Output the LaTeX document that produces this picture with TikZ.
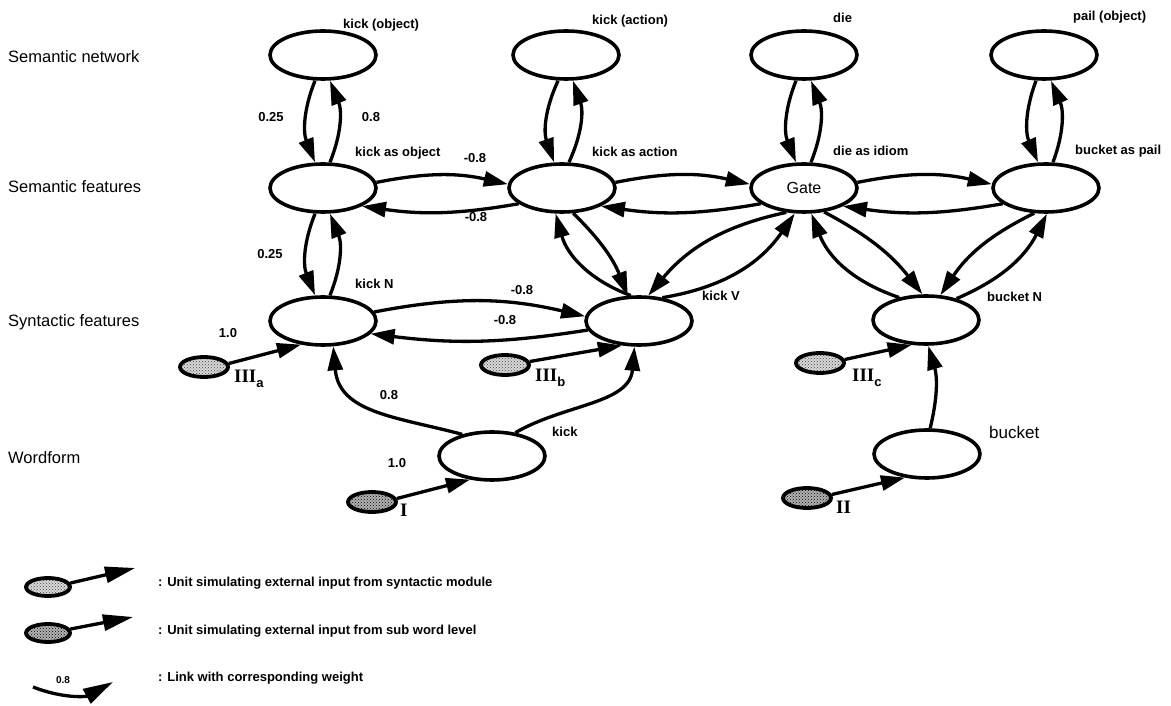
\documentclass[tikz,border=0pt]{standalone}
\usepackage{fontspec}
\setmainfont{Liberation Sans}
\newfontfamily\romfont{Liberation Serif}
\usetikzlibrary{shapes.geometric,arrows.meta,patterns}
\begin{document}
\begin{tikzpicture}[x=1pt,y=1pt,
  unit/.style={ellipse, draw, line width=3.6pt, minimum width=106pt, minimum height=48pt, inner sep=0pt},
  inp/.style={ellipse, draw, line width=3.8pt, minimum width=48pt, minimum height=20pt, inner sep=0pt},
  synin/.style={inp, preaction={fill=gray!30}, pattern=crosshatch dots, pattern color=black!75},
  subin/.style={inp, preaction={fill=gray!60}, pattern=crosshatch dots, pattern color=black},
  arr/.style={line width=3.3pt, -{Triangle[length=24pt,width=15pt]}},
  legarr/.style={line width=3.3pt, -{Triangle[length=30pt,width=16pt]}},
  lbl/.style={font=\fontsize{13}{15}\selectfont\bfseries, inner sep=0pt},
  wlbl/.style={lbl, anchor=west},
  rowlbl/.style={font=\fontsize{16.5}{19}\selectfont, anchor=west, inner sep=0pt},
  rom/.style={font=\fontsize{19}{22}\romfont\bfseries, anchor=west, inner sep=0pt},
]
\useasboundingbox[fill=white] (0,0) rectangle (1171,705);

% row labels
\node[rowlbl] (r1) at (8,648) {Semantic network};
\node[rowlbl] (r2) at (8,518) {Semantic features};
\node[rowlbl] (r3) at (8,383) {Syntactic features};
\node[rowlbl] (r4) at (8,247) {Wordform};

% units
\node[unit] (ko) at (323,650) {};
\node[unit] (ka) at (566,650) {};
\node[unit] (die) at (804,650) {};
\node[unit] (pail) at (1044,650) {};
\node[unit] (kao) at (323,517) {};
\node[unit] (kaa) at (562,517) {};
\node[unit, font=\fontsize{16}{18}\selectfont] (gate) at (804,517) {Gate};
\node[unit] (bap) at (1046,517) {};
\node[unit] (kN) at (323,384) {};
\node[unit] (kV) at (639,384) {};
\node[unit] (bN) at (926,385) {};
\node[unit] (kW) at (492,249) {};
\node[unit] (bW) at (927,251) {};

% unit labels
\node[wlbl] (lko) at (343,680) {kick (object)};
\node[wlbl] (lka) at (592,684) {kick (action)};
\node[wlbl] (ldie) at (833,687) {die};
\node[wlbl] (lpail) at (1073,688) {pail (object)};
\node[wlbl] (lkao) at (355,552) {kick as object};
\node[wlbl] (lkaa) at (592,553) {kick as action};
\node[wlbl] (lgate) at (833,554) {die as idiom};
\node[wlbl] (lbap) at (1075,554) {bucket as pail};
\node[wlbl] (lkN) at (355,421) {kick N};
\node[wlbl] (lkV) at (702,409) {kick V};
\node[wlbl] (lbN) at (987,408) {bucket N};
\node[wlbl] (lkW) at (552,273) {kick};
\node[anchor=west, inner sep=0pt, font=\fontsize{17}{19}\selectfont] (lbW) at (989,273) {bucket};

% input units
\node[synin] (IIIa) at (204,338) {};
\node[synin] (IIIb) at (505,340) {};
\node[synin] (IIIc) at (820,342) {};
\node[subin] (I) at (372,203) {};
\node[subin] (II) at (807,207) {};
\node[rom] (lIIIa) at (234,326) {III\raisebox{-5pt}{\normalfont\fontsize{13}{13}\selectfont\bfseries a}};
\node[rom] (lIIIb) at (535,327) {III\raisebox{-5pt}{\normalfont\fontsize{13}{13}\selectfont\bfseries b}};
\node[rom] (lIIIc) at (852,327) {III\raisebox{-5pt}{\normalfont\fontsize{13}{13}\selectfont\bfseries c}};
\node[rom] (lI) at (400,195) {I};
\node[rom] (lII) at (836,198) {II};

% vertical pairs semantic network <-> semantic features
\foreach \a/\b in {ko/kao, ka/kaa, die/gate, pail/bap}{
  \draw[arr] ([xshift=-8pt]\a.south) to[bend right=22] ([xshift=-8pt]\b.north);
  \draw[arr] ([xshift=7pt]\b.north) to[bend right=22] ([xshift=7pt]\a.south);
}
% kick as object <-> kick N
\draw[arr] ([xshift=-8pt]kao.south) to[bend right=22] ([xshift=-8pt]kN.north);
\draw[arr] ([xshift=7pt]kN.north) to[bend right=22] ([xshift=7pt]kao.south);

% horizontal pairs
\foreach \a/\b in {kao/kaa, kaa/gate, gate/bap}{
  \draw[arr] (\a.6) to[bend left=12] (\b.176);
  \draw[arr] (\b.200) to[bend left=9] (\a.-25);
}
\draw[arr] (kN.10) to[bend left=12] (kV.175);
\draw[arr] (kV.190) to[bend left=8] (kN.-15);

% kick as action <-> kick V
\draw[arr] (kaa.-66) to[bend left=12] (kV.114);
\draw[arr] (kV.108) to[bend left=27] (kaa.-104);
% Gate <-> kick V
\draw[arr] (gate.-126) to[bend right=19] (kV.70);
\draw[arr] (kV.45) to[bend right=23] (gate.-110);
% Gate <-> bucket N
\draw[arr] (gate.-50) to[bend left=12] (bN.98);
\draw[arr] (bN.140) to[bend left=25] (gate.-74);
% bucket as pail <-> bucket N
\draw[arr] (bap.-115) to[bend right=15] (bN.60);
\draw[arr] (bN.35) to[bend right=20] (bap.-88);

% wordform links
\draw[arr] (kW.144) to[out=165, in=-85, looseness=1.1] (kN.-68);
\draw[arr] (kW.45) to[out=30, in=-95] (kV.-100);
\draw[arr] (bW.83) to[bend right=15] (bN.-85);

% inputs
\draw[arr] (IIIa.8) -- (kN.-133);
\draw[arr] (IIIb.8) -- (kV.-125);
\draw[arr] (IIIc.8) -- (bN.-120);
\draw[arr] (I.8) -- (kW.-133);
\draw[arr] (II.8) -- (bW.-133);

% weights
\node[lbl] (w1) at (271,588) {0.25};
\node[lbl] (w2) at (371,588) {0.8};
\node[lbl] (w3) at (475,547) {-0.8};
\node[lbl] (w4) at (476,488) {-0.8};
\node[lbl] (w5) at (270,451) {0.25};
\node[lbl] (w6) at (522,415) {-0.8};
\node[lbl] (w7) at (505,385) {-0.8};
\node[lbl] (w8) at (228,372) {1.0};
\node[lbl] (w9) at (389,310) {0.8};
\node[lbl] (w10) at (397,242) {1.0};

% legend
\node[synin, minimum width=44pt, minimum height=18pt] (g1) at (48,118) {};
\coordinate (g1t) at (135,137);
\draw[legarr] (g1.10) -- (g1t);
\node[wlbl] (gt1) at (158,122) {: Unit simulating external input from syntactic module};
\node[subin, minimum width=44pt, minimum height=18pt] (g2) at (48,72) {};
\coordinate (g2t) at (133,88);
\draw[legarr] (g2.10) -- (g2t);
\node[wlbl] (gt2) at (158,74) {: Unit simulating external input from sub word level};
\coordinate (g3a) at (33,18);
\coordinate (g3b) at (113,23);
\draw[legarr] (g3a) to[bend right=25] (g3b);
\node[lbl, font=\fontsize{10}{12}\selectfont\bfseries] (g3w) at (63,25) {0.8};
\node[wlbl] (gt3) at (158,27) {: Link with corresponding weight};
\end{tikzpicture}
\end{document}
